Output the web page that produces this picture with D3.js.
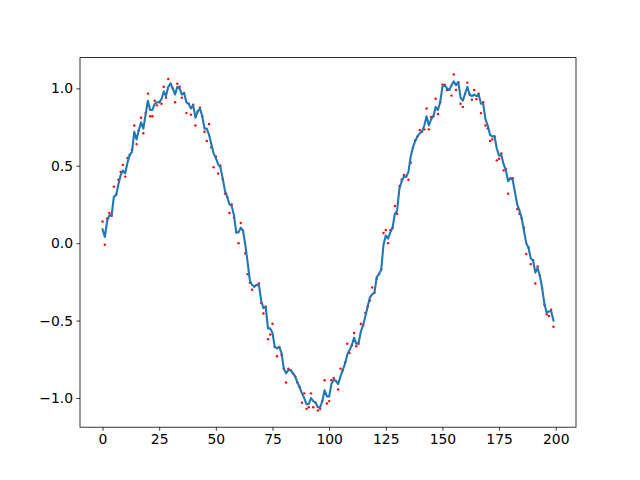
<!DOCTYPE html>
<html><head><meta charset="utf-8">
<script src="https://cdn.jsdelivr.net/npm/d3@7"></script>
<style>body{margin:0;background:#fff}svg{display:block}</style>
</head><body>
<svg id="c" width="640" height="480"></svg>
<script>
const lineValues = [
0.09,0.04,0.14,0.18,0.18,0.30,0.31,0.38,0.44,0.47,
0.45,0.52,0.57,0.59,0.72,0.67,0.73,0.78,0.74,0.83,
0.92,0.86,0.86,0.90,0.91,0.91,0.93,0.98,0.95,1.01,
1.03,1.00,0.96,1.01,1.00,0.96,0.97,0.91,0.90,0.87,
0.89,0.81,0.85,0.87,0.82,0.74,0.74,0.70,0.64,0.58,
0.55,0.51,0.49,0.42,0.34,0.30,0.25,0.24,0.18,0.07,
0.07,0.10,0.08,-0.01,-0.12,-0.24,-0.27,-0.28,-0.27,-0.27,
-0.37,-0.42,-0.41,-0.55,-0.55,-0.58,-0.67,-0.68,-0.67,-0.71,
-0.81,-0.84,-0.82,-0.82,-0.84,-0.86,-0.90,-0.93,-0.97,-1.00,
-1.04,-1.04,-1.00,-1.02,-1.03,-1.06,-1.06,-1.02,-0.95,-0.99,
-0.99,-0.91,-0.88,-0.89,-0.91,-0.86,-0.82,-0.78,-0.72,-0.69,
-0.66,-0.61,-0.65,-0.645,-0.57,-0.53,-0.47,-0.41,-0.35,-0.33,
-0.32,-0.22,-0.20,-0.17,-0.01,0.05,0.03,0.07,0.10,0.19,
0.21,0.35,0.40,0.43,0.43,0.46,0.56,0.62,0.66,0.69,
0.71,0.72,0.76,0.82,0.76,0.80,0.82,0.88,0.86,0.91,
1.01,1.02,1.00,0.99,1.02,1.045,1.02,1.04,0.94,0.92,
0.965,1.01,0.96,0.95,0.96,0.95,0.96,0.90,0.90,0.80,
0.76,0.70,0.69,0.69,0.61,0.565,0.57,0.51,0.47,0.40,
0.42,0.41,0.33,0.25,0.21,0.16,0.08,0.00,-0.03,-0.10,
-0.11,-0.19,-0.16,-0.21,-0.29,-0.39,-0.45,-0.44,-0.44,-0.50
];
const dotValues = [
0.14,-0.01,0.16,0.195,0.176,0.364,0.314,0.41,0.46,0.506,
0.43,0.55,0.57,0.605,0.76,0.64,0.73,0.81,0.71,0.84,
0.966,0.82,0.82,0.92,0.89,0.91,0.90,1.01,0.94,1.06,
1.03,1.00,0.91,1.03,1.01,0.94,0.97,0.84,0.90,0.83,
0.895,0.76,0.85,0.875,0.82,0.72,0.66,0.77,0.62,0.49,
0.56,0.45,0.50,0.415,0.32,0.30,0.195,0.25,0.165,0.07,
0.00,0.13,0.08,-0.065,-0.20,-0.255,-0.30,-0.28,-0.27,-0.26,
-0.387,-0.454,-0.41,-0.62,-0.59,-0.52,-0.67,-0.73,-0.67,-0.72,
-0.81,-0.90,-0.81,-0.82,-0.84,-0.86,-0.90,-0.93,-1.03,-0.97,
-1.07,-1.06,-0.97,-1.06,-1.03,-1.08,-1.07,-1.02,-0.885,-1.035,
-1.02,-0.885,-0.87,-0.89,-0.945,-0.81,-0.82,-0.77,-0.65,-0.71,
-0.66,-0.58,-0.665,-0.65,-0.52,-0.53,-0.45,-0.41,-0.37,-0.286,
-0.32,-0.23,-0.20,-0.17,0.066,0.085,0.00,0.085,0.10,0.24,
0.19,0.37,0.41,0.44,0.43,0.41,0.52,0.615,0.665,0.69,
0.73,0.72,0.735,0.87,0.735,0.815,0.82,0.933,0.834,0.91,
1.024,1.024,0.99,0.99,0.953,1.09,0.99,1.04,0.90,0.88,
0.965,1.037,0.96,0.926,0.99,0.93,0.965,0.84,0.91,0.76,
0.74,0.66,0.67,0.69,0.535,0.545,0.58,0.47,0.48,0.32,
0.42,0.42,0.33,0.22,0.19,0.16,0.10,-0.07,-0.03,-0.135,
-0.11,-0.26,-0.15,-0.21,-0.29,-0.40,-0.46,-0.47,-0.43,-0.54
];
const xTicks = [0,25,50,75,100,125,150,175,200];
const yTicks = [-1.0,-0.5,0.0,0.5,1.0];

const svg = d3.select("#c");
const L = 80, R = 576, T = 57.6, B = 427.2;
const n = lineValues.length;
const xs = d3.scaleLinear().domain([-0.05*(n-1), (n-1)*1.05]).range([L, R]);
const allV = lineValues.concat(dotValues);
const ymin = d3.min(allV), ymax = d3.max(allV), pad = (ymax-ymin)*0.05;
const ys = d3.scaleLinear().domain([ymin-pad, ymax+pad]).range([B, T]);

const g = svg.append("g");
g.selectAll("circle").data(dotValues).enter().append("circle")
  .attr("cx",(d,i)=>xs(i)).attr("cy",d=>ys(d)).attr("r",1.2).attr("fill","red");
g.append("path").datum(lineValues)
  .attr("d", d3.line().x((d,i)=>xs(i)).y(d=>ys(d)))
  .attr("fill","none").attr("stroke","#1f77b4").attr("stroke-width",2.08)
  .attr("stroke-linejoin","round").attr("stroke-linecap","square");

const fmtY = d => d3.format(".1f")(d).replace("-","\u2212");
const xa = svg.append("g").attr("transform",`translate(0,${B})`)
  .call(d3.axisBottom(xs).tickValues(xTicks).tickSize(3.5).tickPadding(3.5).tickFormat(d3.format("d")));
const ya = svg.append("g").attr("transform",`translate(${L},0)`)
  .call(d3.axisLeft(ys).tickValues(yTicks).tickSize(3.5).tickPadding(3.5).tickFormat(fmtY));
[xa,ya].forEach(a=>{
  a.select(".domain").remove();
  a.selectAll("line").attr("stroke","#000").attr("stroke-width",0.8);
  a.selectAll("text").attr("font-family","DejaVu Sans").attr("font-size","13.9px").attr("fill","#000");
});
svg.append("rect").attr("x",L).attr("y",T).attr("width",R-L).attr("height",B-T)
  .attr("fill","none").attr("stroke","#000").attr("stroke-width",0.8);
</script>
</body></html>
